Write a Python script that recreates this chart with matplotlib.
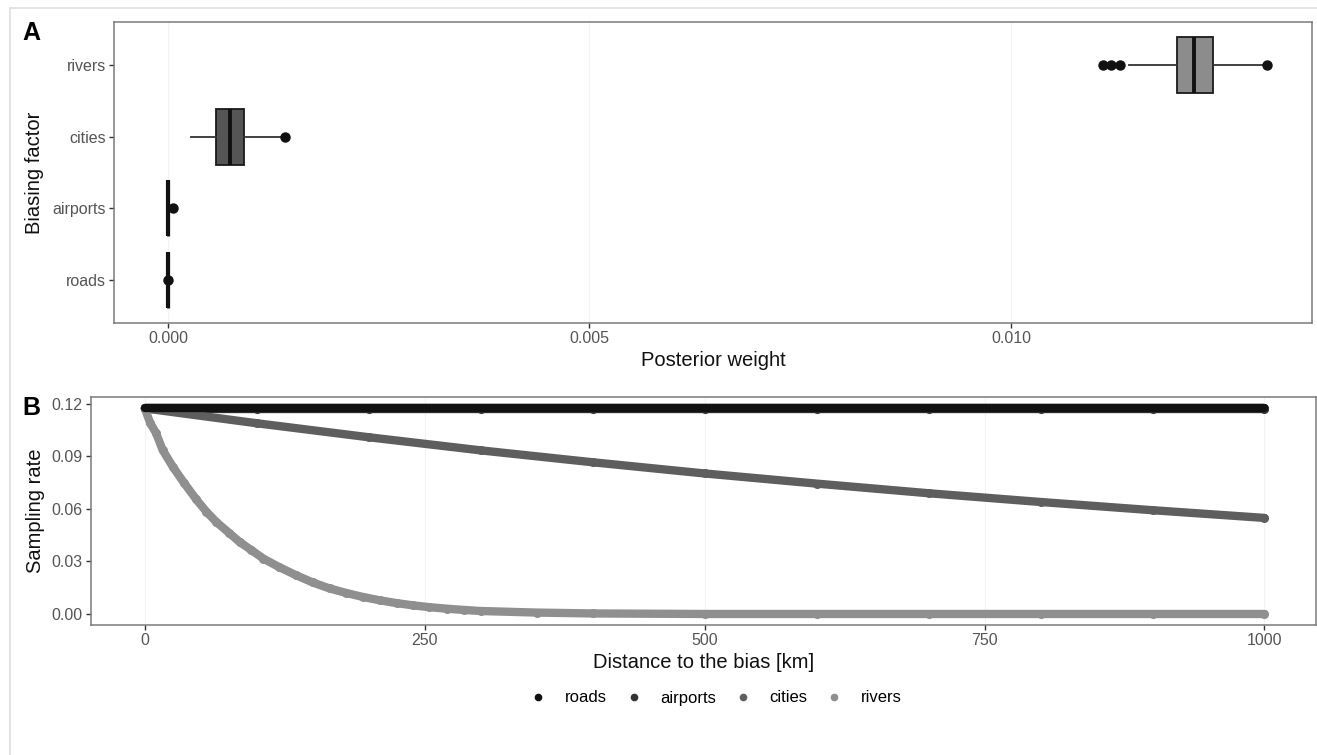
import matplotlib
matplotlib.use("Agg")
import matplotlib.pyplot as plt
from matplotlib.lines import Line2D
from matplotlib.patches import Rectangle

plt.rcParams['font.family'] = ['Liberation Sans', 'DejaVu Sans']

# ---------------- Panel A data (box statistics, posterior weight) ----------------
factors = ["roads", "airports", "cities", "rivers"]
box_q1 = [0.0, 0.0, 0.00057, 0.01197]
box_med = [0.0, 0.0, 0.00074, 0.01217]
box_q3 = [0.0, 0.0, 0.00090, 0.01240]
whisk_lo = [0.0, 0.0, 0.00027, 0.01140]
whisk_hi = [0.0, 0.0, 0.00136, 0.01300]
fliers = [[0.0], [0.00006], [0.00139], [0.01109, 0.01119, 0.01129, 0.01304]]
box_fill = ["#111111", "#333333", "#555555", "#8c8c8c"]
xticks_a = [0.000, 0.005, 0.010]
xticklabels_a = ["0.000", "0.005", "0.010"]

# ---------------- Panel B data (sampling rate vs distance) ----------------
dist_flat = [0, 100, 200, 300, 400, 500, 600, 700, 800, 900, 1000]
rate_roads = [0.1175] * 11
rate_airports = [0.1174] * 11
dist_cities = [0, 100, 200, 300, 400, 500, 600, 700, 800, 900, 1000]
rate_cities = [0.1175, 0.1090, 0.1010, 0.0935, 0.0867, 0.0803, 0.0745, 0.0690, 0.0640, 0.0593, 0.0549]
dist_rivers = [0, 5, 10, 16, 25, 35, 46, 55, 64, 75, 85, 95, 106, 120, 135, 150, 165, 180, 195,
               210, 225, 240, 254, 270, 285, 300, 350, 400, 500, 600, 700, 800, 900, 1000]
rate_rivers = [0.1175, 0.1090, 0.1035, 0.0937, 0.0842, 0.0750, 0.0655, 0.0585, 0.0525, 0.0465,
               0.0410, 0.0366, 0.0316, 0.0268, 0.0222, 0.0180, 0.0146, 0.0120, 0.0097, 0.0078,
               0.0062, 0.0049, 0.0039, 0.0030, 0.0023, 0.0017, 0.0008, 0.0003, 0.0, 0.0, 0.0,
               0.0, 0.0, 0.0]
series_colors = {"roads": "#111111", "airports": "#333333", "cities": "#5e5e5e", "rivers": "#8f8f8f"}
xticks_b = [0, 250, 500, 750, 1000]
yticks_b = [0.00, 0.03, 0.06, 0.09, 0.12]

W, H = 1317, 755
fig = plt.figure(figsize=(W / 100, H / 100), dpi=100)

# figure frame
fig.patches.append(Rectangle((10 / W, -0.1), 2.0, (H - 8) / H + 0.1, transform=fig.transFigure,
                             fill=False, edgecolor="#dedede", lw=1.2))

spine_col = "#7a7a7a"
tick_col = "#555555"

def style_axes(ax):
    for s in ax.spines.values():
        s.set_color(spine_col)
        s.set_linewidth(1.1)
    ax.tick_params(colors="#333333", labelcolor=tick_col, labelsize=11.5, length=3.5, width=1.0, pad=2.5)

# ---------------- Panel A ----------------
axA = fig.add_axes([114 / W, 1 - 323 / H, (1312 - 114) / W, (323 - 22) / H])
style_axes(axA)
stats = []
for i in range(len(factors)):
    stats.append(dict(med=box_med[i], q1=box_q1[i], q3=box_q3[i],
                      whislo=whisk_lo[i], whishi=whisk_hi[i], fliers=fliers[i], label=factors[i]))
bp = axA.bxp(stats, positions=[1, 2, 3, 4], vert=False, widths=0.78, patch_artist=True,
             showfliers=True,
             boxprops=dict(edgecolor="#1a1a1a", linewidth=1.3),
             medianprops=dict(color="#111111", linewidth=2.8, solid_capstyle="butt"),
             whiskerprops=dict(color="#333333", linewidth=1.3),
             capprops=dict(linewidth=0),
             flierprops=dict(marker="o", markerfacecolor="#111111", markeredgecolor="#111111",
                             markersize=6.5))
for patch, c in zip(bp["boxes"], box_fill):
    patch.set_facecolor(c)
for b in bp["boxes"][:2]:
    b.set_linewidth(2.2)
for m in bp["medians"][:2]:
    m.set_linewidth(3.0)
axA.set_xlim(-0.00064, 0.01357)
axA.set_ylim(0.4, 4.6)
axA.set_yticks([1, 2, 3, 4])
axA.set_yticklabels(factors)
axA.set_xticks(xticks_a)
axA.set_xticklabels(xticklabels_a)
axA.set_axisbelow(True)
axA.grid(axis="x", color="#f2f2f2", lw=0.8)
axA.set_xlabel("Posterior weight", fontsize=14.5, color="#111111", labelpad=3)
axA.set_ylabel("Biasing factor", fontsize=14.5, color="#111111", labelpad=6)

# ---------------- Panel B ----------------
axB = fig.add_axes([91 / W, 1 - 625 / H, (1316 - 91) / W, (625 - 397) / H])
style_axes(axB)
lw_band = 6.0
for name, xs, ys in [("roads", dist_flat, rate_roads), ("airports", dist_flat, rate_airports),
                     ("cities", dist_cities, rate_cities), ("rivers", dist_rivers, rate_rivers)]:
    c = series_colors[name]
    axB.plot(xs, ys, color=c, lw=lw_band, solid_capstyle="round", solid_joinstyle="round", zorder=3)
    axB.plot(xs, ys, "o", color=c, ms=6.5, mec="none", zorder=3)
axB.plot(dist_flat, rate_roads, color=series_colors["roads"], lw=lw_band, solid_capstyle="round", zorder=4)
axB.set_xlim(-48, 1046)
axB.set_ylim(-0.0063, 0.124)
axB.set_xticks(xticks_b)
axB.set_xticklabels([str(v) for v in xticks_b])
axB.set_yticks(yticks_b)
axB.set_yticklabels([f"{v:.2f}" for v in yticks_b])
axB.set_axisbelow(True)
axB.grid(axis="x", color="#f2f2f2", lw=0.8)
axB.set_xlabel("Distance to the bias [km]", fontsize=14.5, color="#111111", labelpad=3)
axB.set_ylabel("Sampling rate", fontsize=14.5, color="#111111", labelpad=5)

# panel letters
fig.text(22 / W, 1 - 33 / H, "A", fontsize=18, fontweight="bold", va="center", ha="left")
fig.text(22 / W, 1 - 408 / H, "B", fontsize=18, fontweight="bold", va="center", ha="left")

# legend
handles = [Line2D([], [], ls="none", marker="o", ms=5.5, color=series_colors[n], mec="none")
           for n in factors]
fig.legend(handles, factors, loc="center", bbox_to_anchor=(716 / W, 1 - 698 / H), ncol=4,
           frameon=False, fontsize=12, handletextpad=1.1, columnspacing=1.1,
           handlelength=1.0)

fig.savefig("out.png", dpi=100)
